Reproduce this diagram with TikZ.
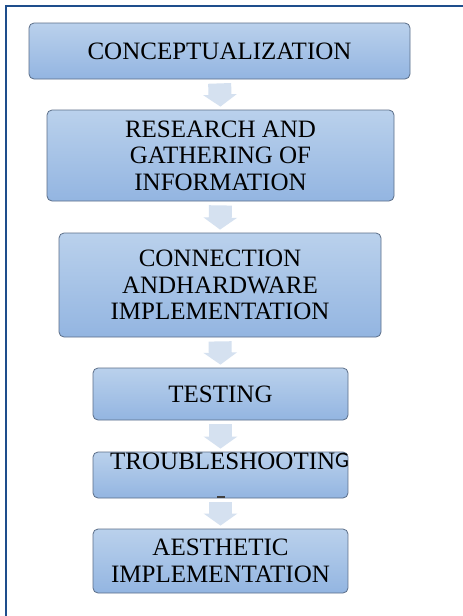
\documentclass[tikz,border=0pt]{standalone}
\usepackage{fontspec}
\setmainfont{Liberation Serif}
\newfontfamily\gfont{Carlito}
\usetikzlibrary{arrows.meta}
\definecolor{boxtop}{HTML}{BAD1EC}
\definecolor{boxbot}{HTML}{93B5E1}
\definecolor{boxedge}{HTML}{5B6E88}
\definecolor{arrowfill}{HTML}{D5E1F0}
\definecolor{framecol}{HTML}{1E4E8C}
\begin{document}
\begin{tikzpicture}[x=1pt,y=-1pt,
  stepbox/.style={draw=boxedge, line width=0.8pt, rounded corners=5pt,
    top color=boxtop, bottom color=boxbot, align=center, inner sep=0pt,
    font=\fontsize{25}{26.5}\selectfont, text=black},
  flow/.style={line width=23pt, draw=arrowfill,
    -{Triangle[width=33pt,length=12pt]}, shorten <=4pt, shorten >=3pt}]
  % page and frame
  \path[fill=white] (0,0) rectangle (463,616);
  \useasboundingbox (0,0) rectangle (463,616);
  \draw[framecol, line width=2pt] (5.5,616) -- (5.5,5.5) -- (463,5.5);

  % process steps
  \node[stepbox, minimum width=381pt, minimum height=56pt] (concept) at (219.5,51) {CONCEPTUALIZATION};
  \node[stepbox, minimum width=347pt, minimum height=91pt] (research) at (220.5,155.5)
    {RESEARCH AND\\GATHERING OF\\INFORMATION};
  \node[stepbox, minimum width=322pt, minimum height=104pt] (hardware) at (220,285)
    {CONNECTION\\ANDHARDWARE\\IMPLEMENTATION};
  \node[stepbox, minimum width=255pt, minimum height=52pt] (testing) at (220.5,394) {TESTING};
  \node[stepbox, minimum width=255pt, minimum height=46pt] (trouble) at (220.5,475) {};
  \node[stepbox, minimum width=255pt, minimum height=64pt] (aesthetic) at (220.5,561)
    {AESTHETIC\\IMPLEMENTATION};

  % label of the troubleshooting step, set high in its box
  \node[anchor=base west, inner sep=0pt, font=\fontsize{25}{26.5}\selectfont, text=black]
    (troubletext) at (110,469) {TROUBLESHOOTIN\raisebox{2pt}{\gfont\fontsize{22}{24}\selectfont G}};
  \node[fill=black!75, inner sep=0pt, minimum width=8pt, minimum height=2pt] (troublemark) at (220.5,497) {};

  % connectors
  \draw[flow] (concept.south) -- (research.north);
  \draw[flow] (research.south) -- (hardware.north);
  \draw[flow] (hardware.south) -- (testing.north);
  \draw[flow] (testing.south) -- (trouble.north);
  \draw[flow] (trouble.south) -- (aesthetic.north);
\end{tikzpicture}
\end{document}
